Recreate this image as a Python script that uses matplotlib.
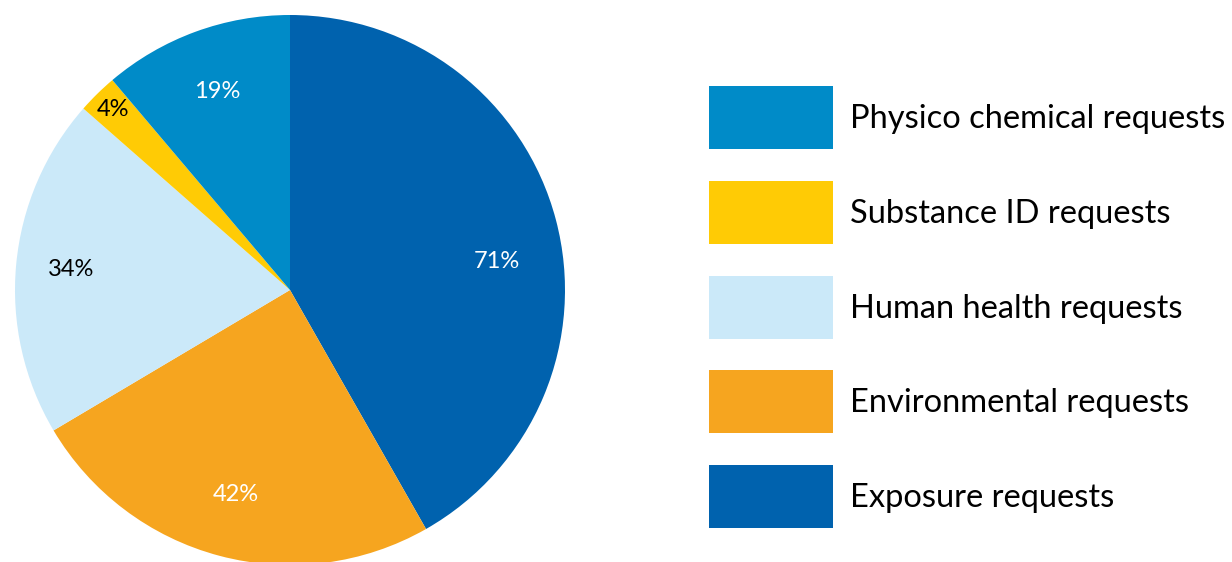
import matplotlib.pyplot as plt
from matplotlib.patches import Rectangle
import numpy as np

plt.rcParams['font.family'] = ['Lato', 'DejaVu Sans']

# data (ลำดับตามเข็มนาฬิกาจากด้านบน)
categories = ['Exposure requests', 'Environmental requests', 'Human health requests',
              'Substance ID requests', 'Physico chemical requests']
values = [71, 42, 34, 4, 19]
colors = ['#0062AE', '#F6A51F', '#CBE9F9', '#FFCB05', '#008BC8']
label_colors = ['white', 'white', 'black', 'black', 'white']

# legend order (top to bottom)
legend_order = ['Physico chemical requests', 'Substance ID requests', 'Human health requests',
                'Environmental requests', 'Exposure requests']

W, H = 1232, 562
fig = plt.figure(figsize=(W / 100, H / 100), dpi=100)

# pie axes: centre (290, 290) px, radius 275 px
cx, cy, r = 290, 290, 275
ax = fig.add_axes([(cx - r) / W, (H - cy - r) / H, 2 * r / W, 2 * r / H])
wedges, _ = ax.pie(values, colors=colors, startangle=90, counterclock=False,
                   wedgeprops=dict(linewidth=0))
ax.set_xlim(-1, 1)
ax.set_ylim(-1, 1)
ax.set_aspect('equal')
ax.axis('off')

# percentage labels
dists = [0.76, 0.77, 0.80, 0.92, 0.77]
shift = [-7, 0, 0, 0, 0]
for w, v, c, d, s in zip(wedges, values, label_colors, dists, shift):
    ang = np.deg2rad((w.theta1 + w.theta2) / 2 + s)
    ax.text(d * np.cos(ang), d * np.sin(ang), f'{v}%', color=c, fontsize=17,
            ha='center', va='center')

# legend
lax = fig.add_axes([0, 0, 1, 1])
lax.set_xlim(0, W)
lax.set_ylim(H, 0)
lax.axis('off')
for i, name in enumerate(legend_order):
    y0 = 86 + i * 94.8
    col = colors[categories.index(name)]
    lax.add_patch(Rectangle((709, y0), 124, 63, color=col, lw=0))
    lax.text(850, y0 + 33, name, fontsize=23.5, va='center', ha='left', color='black')

fig.savefig('out.png', dpi=100)
